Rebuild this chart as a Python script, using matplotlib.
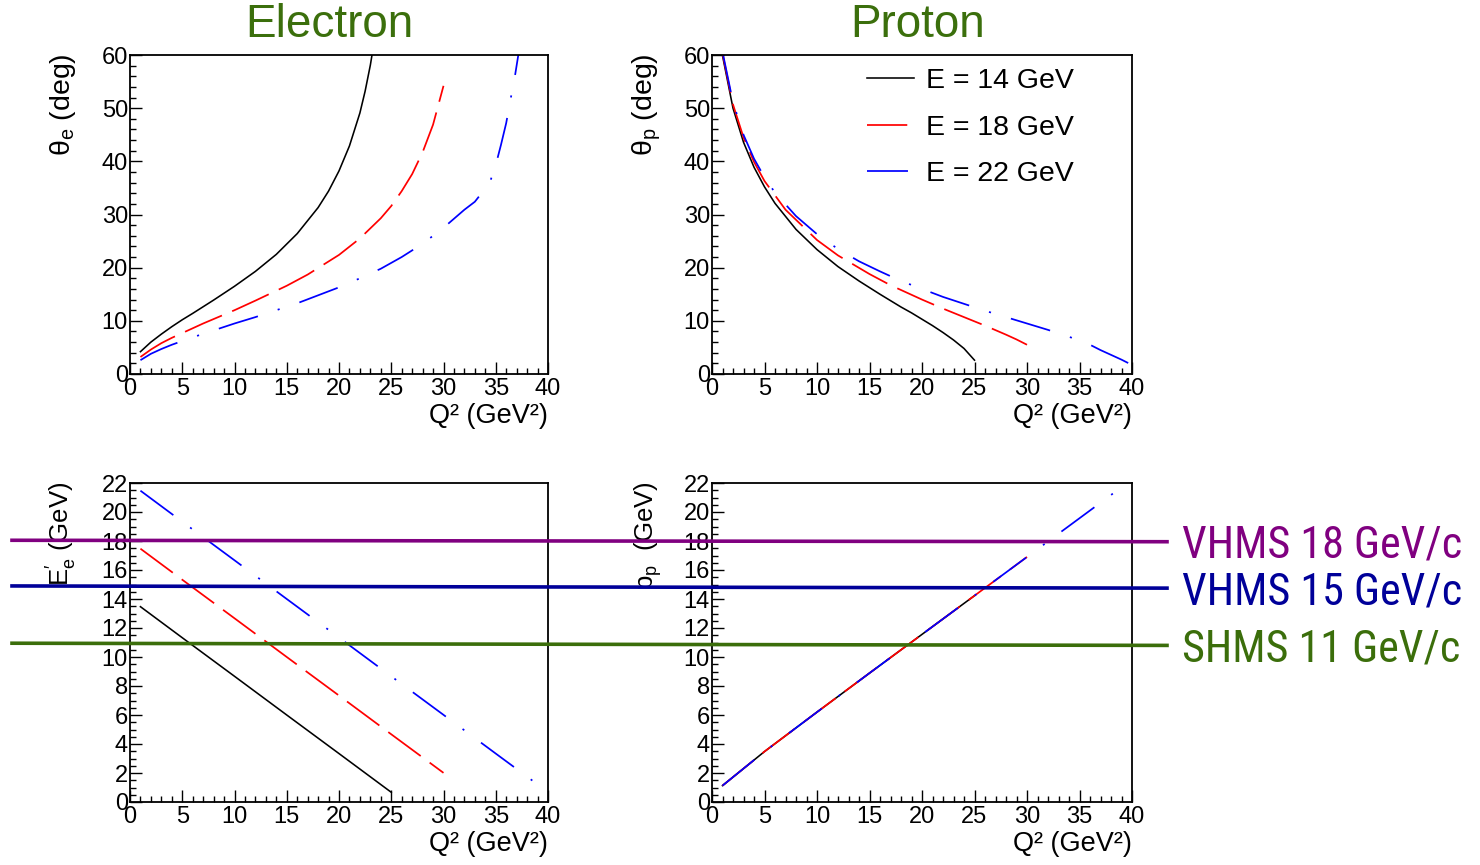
import matplotlib
matplotlib.use('Agg')
import matplotlib.pyplot as plt
from matplotlib.lines import Line2D
from matplotlib.ticker import MultipleLocator
from matplotlib import font_manager
from matplotlib.font_manager import FontProperties
import matplotlib.transforms as mtransforms

plt.rcParams['font.family'] = ['Liberation Sans', 'DejaVu Sans']
plt.rcParams['mathtext.fontset'] = 'custom'
plt.rcParams['mathtext.rm'] = 'Liberation Sans'
plt.rcParams['mathtext.it'] = 'Liberation Sans:italic'
plt.rcParams['lines.scale_dashes'] = False

# ---------------- data ----------------
beam_labels = ['E = 14 GeV', 'E = 18 GeV', 'E = 22 GeV']

# electron angle theta_e (deg) vs Q2
q2_the_14 = [1, 2, 3, 4, 5, 6, 8, 10, 12, 14, 16, 18, 19, 20, 21, 22, 22.5, 23, 23.2]
the_14 = [4.2, 6.0, 7.5, 8.9, 10.2, 11.4, 13.9, 16.5, 19.3, 22.5, 26.4, 31.3, 34.4, 38.2, 42.9, 49.1, 53.2, 58.1, 60.5]
q2_the_18 = [1, 2, 3, 4, 5, 7, 10, 12, 15, 17, 20, 22, 24, 25, 26, 27, 28, 29, 30]
the_18 = [3.2, 4.6, 5.8, 6.8, 7.7, 9.5, 12.0, 13.8, 16.6, 18.7, 22.4, 25.5, 29.3, 31.6, 34.4, 37.6, 41.7, 46.9, 54.2]
q2_the_22 = [1, 2, 3, 4, 5, 6, 8, 10, 12, 14, 16, 18, 20, 22, 24, 26, 28, 30, 31, 32, 33, 34,
             34.5, 35, 35.5, 36, 36.4, 36.8, 37.2]
the_22 = [2.6, 3.8, 4.7, 5.5, 6.2, 6.9, 8.2, 9.5, 10.7, 12.0, 13.3, 14.8, 16.3, 18.0, 19.8, 22.0, 24.5, 27.5, 29.2, 30.9, 32.4, 34.9,
          36.4, 39.3, 43.1, 47.2, 51.5, 55.6, 60.5]

# proton angle theta_p (deg) vs Q2
q2_thp_14 = [1, 2, 3, 4, 5, 6, 8, 10, 12, 14, 16, 18, 19, 20, 21, 22, 23, 24, 25]
thp_14 = [59.9, 50.0, 43.6, 38.9, 35.2, 32.1, 27.2, 23.4, 20.2, 17.5, 15.0, 12.6, 11.5, 10.3, 9.1, 7.8, 6.4, 4.8, 2.6]
q2_thp_18 = [1, 2, 3, 4, 5, 7, 10, 12, 15, 17, 20, 22, 24, 26, 28, 29, 30]
thp_18 = [60.3, 50.7, 44.5, 39.9, 36.3, 30.9, 25.2, 22.3, 18.8, 16.7, 14.0, 12.3, 10.7, 9.1, 7.4, 6.5, 5.5]
q2_thp_22 = [1, 2, 3, 4, 5, 6, 8, 10, 12, 14, 16, 18, 20, 22, 24, 26, 28, 30, 32, 34, 35, 36, 37, 38, 39, 40]
thp_22 = [60.6, 51.1, 45.0, 40.5, 37.0, 34.1, 29.7, 26.3, 23.5, 21.2, 19.3, 17.5, 16.0, 14.5, 13.2, 11.9, 10.7, 9.5,
          8.3, 7.0, 6.3, 5.5, 4.5, 3.6, 2.7, 1.7]

# scattered electron energy E'_e (GeV) vs Q2
q2_ep_14 = [1, 5, 10, 15, 20, 25]
ep_14 = [13.47, 11.33, 8.67, 6.00, 3.34, 0.67]
q2_ep_18 = [1, 5, 10, 15, 20, 25, 30]
ep_18 = [17.47, 15.33, 12.67, 10.00, 7.34, 4.67, 2.01]
q2_ep_22 = [1, 5, 10, 15, 20, 25, 30, 35, 38.5]
ep_22 = [21.47, 19.33, 16.67, 14.00, 11.34, 8.67, 6.01, 3.34, 1.48]

# proton momentum p_p (GeV) vs Q2
q2_pp_14 = [1, 5, 10, 15, 20, 25]
pp_14 = [1.13, 3.48, 6.20, 8.89, 11.56, 14.23]
q2_pp_18 = [1, 5, 10, 15, 20, 25, 30]
pp_18 = [1.13, 3.48, 6.20, 8.89, 11.56, 14.23, 16.90]
q2_pp_22 = [1, 5, 10, 15, 20, 25, 30, 35, 38.5]
pp_22 = [1.13, 3.48, 6.20, 8.89, 11.56, 14.23, 16.90, 19.57, 21.44]

# spectrometer momentum limits (GeV/c), drawn across the lower panels
limit_labels = ['VHMS 18 GeV/c', 'VHMS 15 GeV/c', 'SHMS 11 GeV/c']
limit_left = [18.05, 14.9, 10.95]
limit_right = [17.95, 14.75, 10.8]
limit_colors = ['#800080', '#000099', '#3b6e0b']

# ---------------- figure ----------------
W, H = 1480, 865
fig = plt.figure(figsize=(W / 100, H / 100), dpi=100)
fig.patch.set_facecolor('white')


def rect(l, r, t, b):
    return [l / W, 1 - b / H, (r - l) / W, (b - t) / H]


ax_tl = fig.add_axes(rect(130, 548, 55, 374))
ax_tr = fig.add_axes(rect(712, 1132, 55, 374))
ax_bl = fig.add_axes(rect(130, 548, 483, 802))
ax_br = fig.add_axes(rect(712, 1132, 483, 802))

styles = [
    dict(color='black', lw=1.15, ls='-'),
    dict(color='#ff0000', lw=1.25, ls=(0, (29, 8))),
    dict(color='#0000ff', lw=1.25, ls=(0, (29.5, 15, 1.5, 15))),
]


def style(ax, ymax, ymaj, ymin, ylabel, ylab_x, ylab_size):
    ax.set_xlim(0, 40)
    ax.set_ylim(0, ymax)
    ax.xaxis.set_major_locator(MultipleLocator(5))
    ax.xaxis.set_minor_locator(MultipleLocator(1))
    ax.yaxis.set_major_locator(MultipleLocator(ymaj))
    ax.yaxis.set_minor_locator(MultipleLocator(ymin))
    ax.tick_params(which='both', direction='in', top=False, right=False,
                   labelsize=17, width=1.0, color='black')
    ax.tick_params(which='major', length=8.5)
    ax.tick_params(which='minor', length=4)
    ax.tick_params(axis='x', which='both', pad=3)
    ax.tick_params(axis='y', which='both', pad=1.5)
    for s in ax.spines.values():
        s.set_linewidth(1.3)
        s.set_color('black')
    ax.text(ylab_x, 1.005, ylabel, rotation=90, ha='center', va='top',
            transform=ax.transAxes, fontsize=ylab_size)
    ax.text(1.0, -0.155, 'Q² (GeV²)', ha='right', va='baseline',
            transform=ax.transAxes, fontsize=19.5)


style(ax_tl, 60, 10, 2, 'θ$_{\\mathrm{e}}$ (deg)', -0.160, 20.5)
style(ax_tr, 60, 10, 2, 'θ$_{\\mathrm{p}}$ (deg)', -0.155, 20.5)
style(ax_bl, 22, 2, 0.5, "E$^{\\prime}_{\\mathrm{e}}$ (GeV)", -0.163, 18.5)
style(ax_br, 22, 2, 0.5, 'p$_{\\mathrm{p}}$  (GeV)', -0.152, 18.5)

ax_tl.plot(q2_the_14, the_14, **styles[0])
ax_tl.plot(q2_the_18, the_18, **styles[1])
ax_tl.plot(q2_the_22, the_22, **styles[2])

h14, = ax_tr.plot(q2_thp_14, thp_14, **styles[0])
h18, = ax_tr.plot(q2_thp_18, thp_18, **styles[1])
h22, = ax_tr.plot(q2_thp_22, thp_22, **styles[2])

ax_bl.plot(q2_ep_14, ep_14, **styles[0])
ax_bl.plot(q2_ep_18, ep_18, **styles[1])
ax_bl.plot(q2_ep_22, ep_22, **styles[2])

ax_br.plot(q2_pp_14, pp_14, **styles[0])
ax_br.plot(q2_pp_18, pp_18, **styles[1])
ax_br.plot(q2_pp_22, pp_22, **styles[2])

ax_tr.legend([h14, h18, h22], beam_labels, loc='upper left',
             bbox_to_anchor=(0.368, 0.958), frameon=False, fontsize=20.5,
             handlelength=1.68, handletextpad=0.4, labelspacing=0.72,
             borderpad=0, borderaxespad=0)

# titles
title_color = '#3b6f0c'
fig.text(329 / W, 1 - 37 / H, 'Electron', ha='center', va='baseline',
         fontsize=33, color=title_color)
fig.text(918 / W, 1 - 37 / H, 'Proton', ha='center', va='baseline',
         fontsize=33, color=title_color)

# choose the narrowest installed sans family for the side labels
lab_family = 'Liberation Sans'
for fam in ['Liberation Sans Narrow', 'Roboto Condensed', 'Liberation Sans']:
    try:
        font_manager.findfont(FontProperties(family=fam), fallback_to_default=False)
        lab_family = fam
        break
    except Exception:
        pass

# spectrometer limit lines across the lower panels
trans = mtransforms.blended_transform_factory(fig.transFigure, ax_bl.transData)
side_texts = []
for lab, yl, yr, col in zip(limit_labels, limit_left, limit_right, limit_colors):
    ln = Line2D([12 / W, 1167 / W], [yl, yr], transform=trans, color=col,
                lw=2.6, clip_on=False, zorder=10)
    fig.add_artist(ln)
    t = fig.text(1182 / W, yr, lab, transform=trans, ha='left', va='baseline',
                 fontsize=34, color=col, family=[lab_family, 'Liberation Sans'])
    side_texts.append((t, yr))

# fit the side labels to the reference width (~281 px)
fig.canvas.draw()
renderer = fig.canvas.get_renderer()
widths = [t.get_window_extent(renderer).width for t, _ in side_texts]
size = 34 * 281.0 / max(widths)
for t, yr in side_texts:
    t.set_fontsize(size)
    t.set_transform(mtransforms.offset_copy(trans, fig=fig, y=-0.36 * size, units='points'))

fig.savefig('out.png', dpi=100, facecolor='white')
